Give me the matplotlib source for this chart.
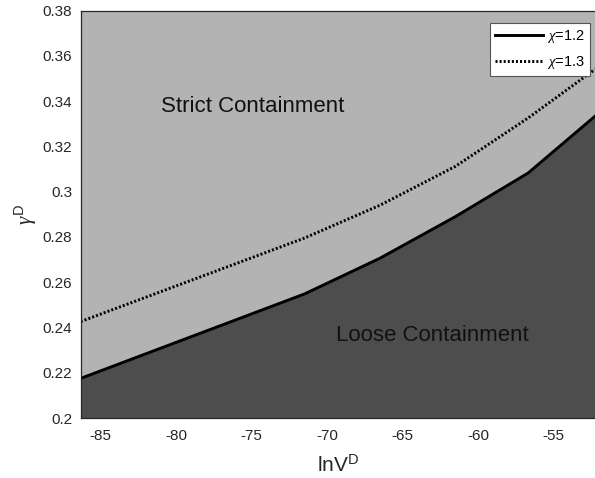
import matplotlib
matplotlib.use("Agg")
import matplotlib.pyplot as plt
from matplotlib.lines import Line2D

# boundary curves gamma^D(lnV^D) for two values of chi
ln_v = [-86.32, -71.5, -66.5, -61.5, -56.7, -52.27]
gamma_chi12 = [0.2175, 0.2548, 0.2706, 0.2890, 0.3082, 0.3333]
gamma_chi13 = [0.2426, 0.2795, 0.2940, 0.3112, 0.3325, 0.3540]

x_ticks = [-85, -80, -75, -70, -65, -60, -55]
y_ticks = [0.2, 0.22, 0.24, 0.26, 0.28, 0.3, 0.32, 0.34, 0.36, 0.38]

plt.rcParams['font.family'] = ['Liberation Sans', 'DejaVu Sans']
plt.rcParams['axes.unicode_minus'] = False
plt.rcParams['mathtext.fontset'] = 'custom'
plt.rcParams['mathtext.rm'] = 'Liberation Sans'
plt.rcParams['mathtext.it'] = 'Liberation Serif:italic'
plt.rcParams['mathtext.bf'] = 'Liberation Sans:bold'

light = '#b3b3b3'
dark = '#4d4d4d'
axcol = '#262626'

fig = plt.figure(figsize=(5.95, 4.78), dpi=100)
ax = fig.add_axes([80.7 / 595, 60 / 478, (595 - 80.7) / 595, (418 - 10.5) / 478])

ax.set_xlim(ln_v[0], ln_v[-1])
ax.set_ylim(y_ticks[0], y_ticks[-1])
ax.set_facecolor(light)

ymin = ax.get_ylim()[0]
ax.fill_between(ln_v, gamma_chi12, ymin, color=dark, lw=0)

dots = (0, (0.7, 0.7))
ax.plot(ln_v, gamma_chi12, color='black', lw=2.1, solid_joinstyle='miter')
ax.plot(ln_v, gamma_chi13, color='black', lw=2.1, linestyle=dots, dash_capstyle='butt')

ax.text(-74.91, 0.3352, 'Strict Containment', ha='center', va='baseline',
        fontsize=16, color='#111111')
ax.text(-63.03, 0.2341, 'Loose Containment', ha='center', va='baseline',
        fontsize=16, color='#111111')

ax.set_xticks(x_ticks)
ax.set_yticks(y_ticks)
ax.set_yticklabels([f'{v:g}' for v in y_ticks])
ax.tick_params(axis='both', length=0, labelsize=11, colors=axcol)
ax.tick_params(axis='x', pad=8)
ax.tick_params(axis='y', pad=6)

for side in ['top', 'left', 'bottom']:
    ax.spines[side].set_color(axcol)
    ax.spines[side].set_linewidth(0.9)
ax.spines['right'].set_visible(False)

ax.set_xlabel('lnV$^{\\mathrm{D}}$', fontsize=15, color=axcol, labelpad=8)
ax.set_ylabel('$\\gamma^{\\mathrm{D}}$', fontsize=15, color=axcol, labelpad=3)

handles = [
    Line2D([0], [0], color='black', lw=2.1),
    Line2D([0], [0], color='black', lw=2.1, linestyle=dots, dash_capstyle='butt'),
]
leg = ax.legend(handles, ['$\\chi$=1.2', '$\\chi$=1.3'], loc='upper right',
                bbox_to_anchor=(590 / 595, 1 - 23.3 / 478),
                bbox_transform=fig.transFigure, fontsize=10.5, frameon=True,
                fancybox=False, handlelength=3.3, handletextpad=0.25,
                borderpad=0.35, labelspacing=0.6, borderaxespad=0)
leg.get_frame().set_edgecolor('#555555')
leg.get_frame().set_linewidth(0.8)
leg.get_frame().set_facecolor('white')
leg.get_frame().set_alpha(1)

fig.savefig('out.png', dpi=100)
